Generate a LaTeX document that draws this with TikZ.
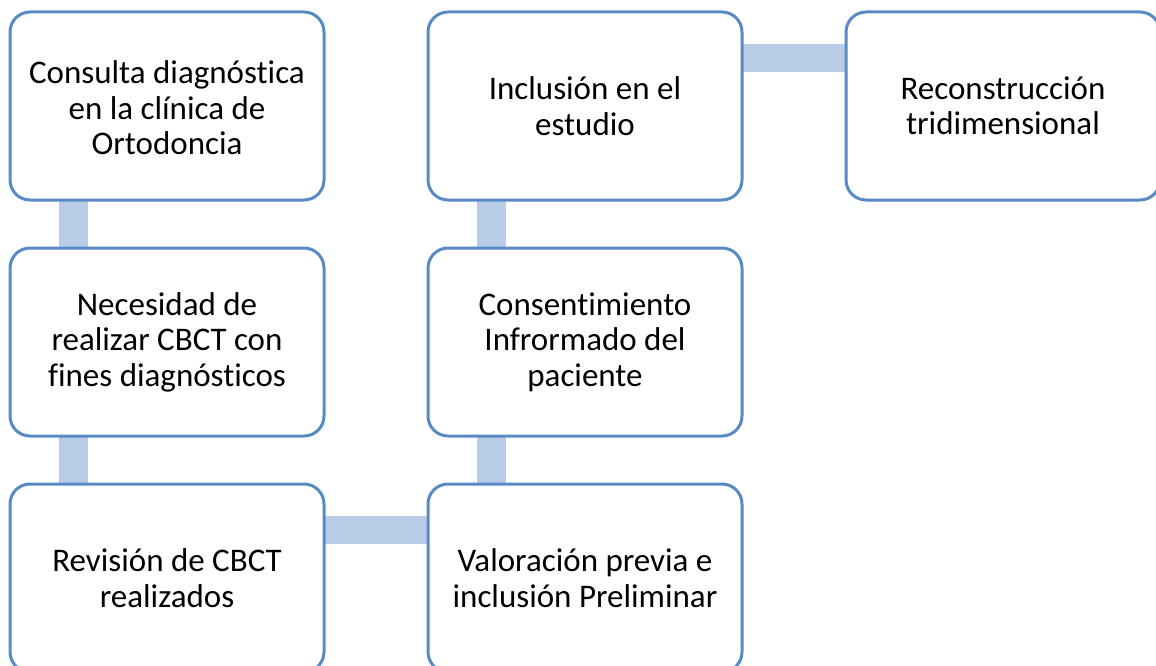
\documentclass[tikz,border=0pt]{standalone}
\usepackage{fontspec}
\setmainfont{Carlito}[Ligatures=NoCommon]
\usetikzlibrary{backgrounds}
\definecolor{boxline}{RGB}{88,138,198}
\definecolor{barfill}{RGB}{184,204,231}
\newcommand{\lowerlines}[2]{\raisebox{-#1}[\height][\depth]{\begin{tabular}{@{}c@{}}#2\end{tabular}}}
\begin{document}
\begin{tikzpicture}[x=1pt,y=-1pt,
  stepbox/.style={draw=boxline, line width=3pt, fill=white, rounded corners=20pt,
    minimum width=314pt, minimum height=188pt, inner sep=0pt, outer sep=0pt,
    align=center, font=\fontsize{33}{35.5}\selectfont, text=black},
  bar/.style={draw=none, fill=barfill}]
\useasboundingbox (0,0) rectangle (1156,666);
\node[stepbox] (b1) at (167,106) {\lowerlines{6pt}{Consulta diagnóstica\\en la clínica de\\Ortodoncia}};
\node[stepbox] (b2) at (167,342) {Necesidad de\\realizar CBCT con\\fines diagnósticos};
\node[stepbox] (b3) at (167,578) {Revisión de CBCT\\realizados};
\node[stepbox] (b4) at (585,578) {Valoración previa e\\inclusión Preliminar};
\node[stepbox] (b5) at (585,342) {Consentimiento\\Infrormado del\\paciente};
\node[stepbox] (b6) at (585,106) {Inclusión en el\\estudio};
\node[stepbox] (b7) at (1003,106) {Reconstrucción\\tridimensional};
\begin{scope}[on background layer]
\fill[barfill] ([xshift=49pt]b1.south west) rectangle ([xshift=78pt]b2.north west);
\fill[barfill] ([xshift=49pt]b2.south west) rectangle ([xshift=78pt]b3.north west);
\fill[barfill] ([yshift=-32pt]b3.north east) rectangle ([yshift=-60pt]b4.north west);
\fill[barfill] ([xshift=49pt]b4.north west) rectangle ([xshift=78pt]b5.south west);
\fill[barfill] ([xshift=49pt]b5.north west) rectangle ([xshift=78pt]b6.south west);
\fill[barfill] ([yshift=-32pt]b6.north east) rectangle ([yshift=-60pt]b7.north west);
\end{scope}
\end{tikzpicture}
\end{document}
